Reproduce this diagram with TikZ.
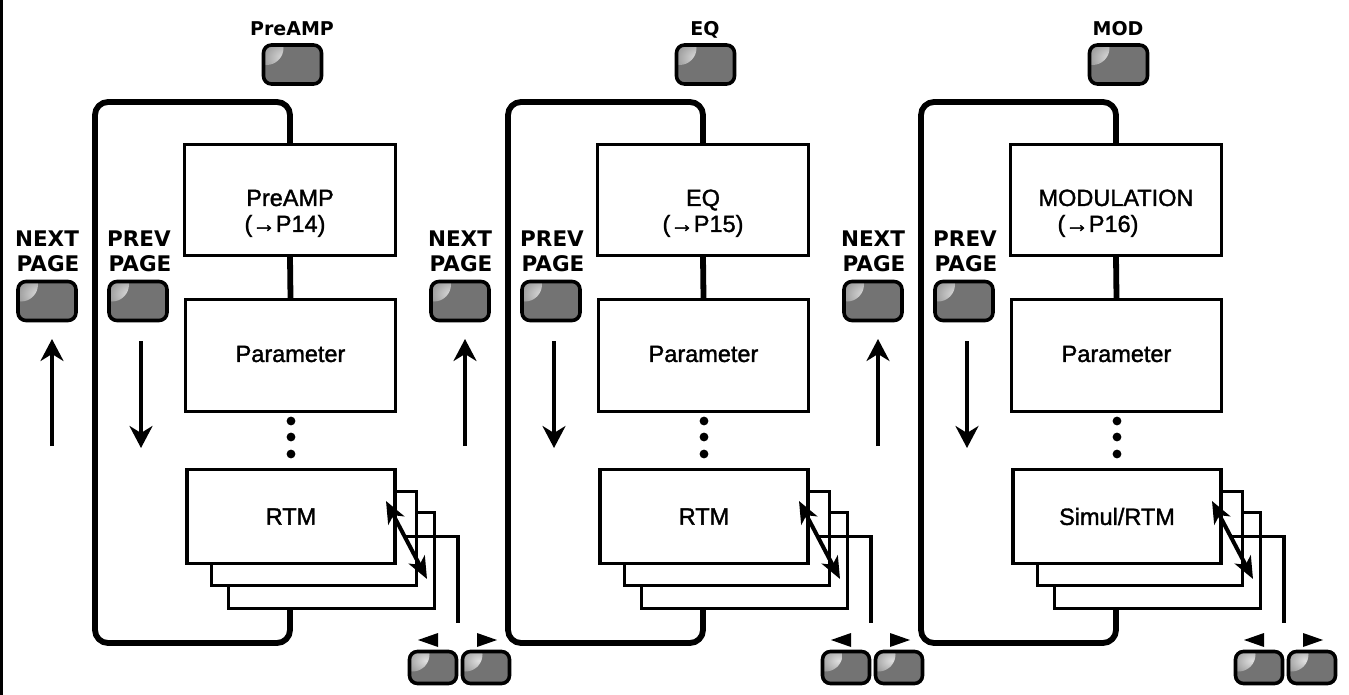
\documentclass[tikz,border=0pt]{standalone}
\usepackage{fontspec}
\setmainfont{Liberation Sans}
\newfontfamily\boxfont{Liberation Sans}[FakeBold=1.5]
\newfontfamily\labfont{DejaVu Sans}
\usetikzlibrary{arrows.meta,calc}
\newcommand\simulrtm{Simul/RTM}
\begin{document}
\begin{tikzpicture}[x=1pt,y=-1pt,
  frame/.style={line width=5.8pt, line join=round},
  box/.style={draw, line width=3.3pt, fill=white, inner sep=0pt},
  thinline/.style={line width=3.2pt},
  btn/.style={draw, line width=3.6pt, rounded corners=8pt, fill=black!55, inner sep=0pt,
    path picture={\shade[inner color=black!12, outer color=black!55]
      ($(path picture bounding box.north west)+(3pt,-3pt)$) circle (17pt);}},
  bigbtn/.style={btn, minimum width=58pt, minimum height=39pt},
  smallbtn/.style={btn, minimum width=47pt, minimum height=32pt},
  lab/.style={font=\labfont\bfseries\fontsize{21.5}{24}\selectfont, inner sep=0pt, anchor=base},
  toplab/.style={font=\labfont\bfseries\fontsize{19}{21}\selectfont, inner sep=0pt, anchor=base},
  boxtext/.style={font=\boxfont\fontsize{23.5}{26}\selectfont, inner sep=0pt},
  pagearrow/.style={line width=3.4pt, -{Stealth[length=22pt, width=23pt, inset=7pt]}},
  dblarrow/.style={line width=4pt, {Stealth[length=22pt, width=18pt, inset=6pt]}-{Stealth[length=22pt, width=18pt, inset=6pt]}}
]
\useasboundingbox (0,0) rectangle (1349,695);
\draw[line width=3pt] (1.5,0) -- (1.5,695);

\foreach \i/\toplabel/\title/\pg/\pgx/\stack in
  {0/PreAMP/PreAMP/P14/285/RTM, 1/EQ/EQ/P15/290/RTM, 2/MOD/MODULATION/P16/272/\simulrtm} {
\begin{scope}[xshift=\i*413pt]
  % top button and label
  \node[toplab] (tl\i) at (292,35.5) {\toplabel};
  \node[bigbtn] (tb\i) at (292.5,64.5) {};
  % NEXT PAGE
  \node[lab] (nx\i) at (47,247) {NEXT};
  \node[lab] (np\i) at (48,271) {PAGE};
  \node[bigbtn] (nb\i) at (47,301) {};
  \coordinate (nas\i) at (52,446);
  \coordinate (nae\i) at (52,339);
  \draw[pagearrow] (nas\i) -- (nae\i);
  % PREV PAGE
  \node[lab] (pv\i) at (139,247) {PREV};
  \node[lab] (pp\i) at (140,271) {PAGE};
  \node[bigbtn] (pb\i) at (138,301) {};
  \coordinate (pas\i) at (141,341);
  \coordinate (pae\i) at (141,448);
  \draw[pagearrow] (pas\i) -- (pae\i);
  % main boxes
  \node[box, minimum width=211pt, minimum height=111pt] (pa\i) at (290,200) {};
  \node[boxtext, anchor=base] (pat\i) at (290,206) {\title};
  \node[boxtext, anchor=base] (pag\i) at (\pgx,232) {(→\pg)};
  \node[box, minimum width=210pt, minimum height=112pt] (par\i) at (290.5,355.5) {};
  \node[boxtext] (part\i) at (290.5,354) {Parameter};
  \draw[frame] (pa\i.south) -- (par\i.north);
  \fill (291,421) circle (4.4pt);
  \fill (291,437) circle (4.4pt);
  \fill (291,454) circle (4.4pt);
  % stacked pages
  \node[box, minimum width=206pt, minimum height=96pt] (s3\i) at (331.5,560.5) {};
  \node[box, minimum width=205pt, minimum height=94pt] (s2\i) at (314,538.5) {};
  \node[box, minimum width=208pt, minimum height=94pt] (rtm\i) at (291,516.5) {};
  \node[boxtext] at (rtm\i.center) (rtmt\i) {\stack};
  % frame
  \draw[frame, rounded corners=13pt] (s3\i.south -| pa\i.center) -- (pa\i.center |- 0,643)
     -- (95,643) -- (95,102) -- (pa\i.center |- 0,102) -- (pa\i.north);
  % double arrow and its line
  \coordinate (da\i) at (386,501);
  \coordinate (db\i) at (427,579);
  \draw[dblarrow] (da\i) -- (db\i);
  \coordinate (dm\i) at ($(da\i)!0.46!(db\i)$);
  \coordinate (le\i) at (458,623);
  \draw[thinline] (dm\i) -| (le\i);
  % bottom buttons
  \fill (438,633) -- (438,647) -- (418,640) -- cycle;
  \fill (477,633) -- (477,647) -- (497,640) -- cycle;
  \node[smallbtn] (bl\i) at (433,667.5) {};
  \node[smallbtn] (br\i) at (486,667.5) {};
\end{scope}
}
\end{tikzpicture}
\end{document}
